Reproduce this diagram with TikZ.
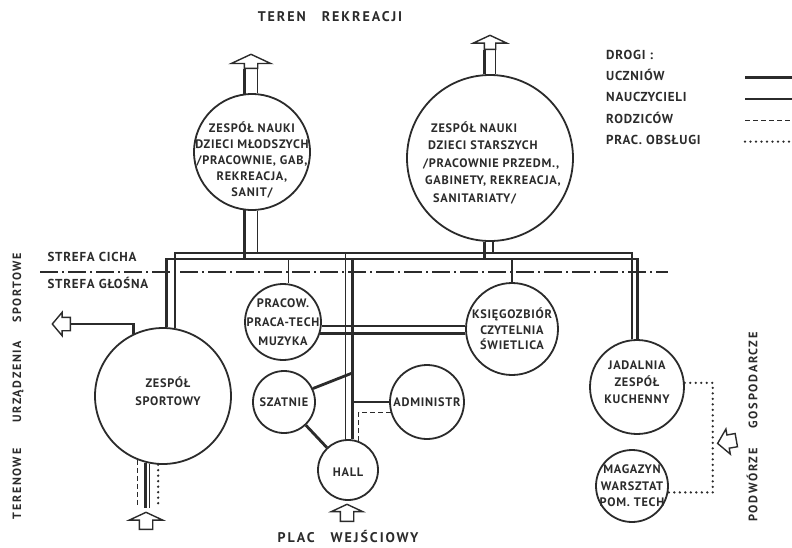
\documentclass[tikz,border=0pt]{standalone}
\usepackage{fontspec}
\setmainfont{PT Sans}[LetterSpace=6]
\usepackage{tikz}
\usetikzlibrary{positioning,shapes.arrows}

\definecolor{ink}{HTML}{2B2B2B}
\newcommand{\szeroko}{\addfontfeature{LetterSpace=14}}

\begin{document}
\begin{tikzpicture}[
    x=1pt, y=-1pt,
    every node/.style={text=ink, font=\fontsize{13}{14}\selectfont\bfseries},
    zone/.style={circle, draw=ink, line width=1.8pt, inner sep=0pt},
    opis/.style={align=center, font=\fontsize{12.3}{#1}\selectfont\bfseries},
    opis/.default=16,
    legenda/.style={inner sep=0pt, text height=8pt, text depth=2pt},
    napis/.style={font=\fontsize{#1}{16}\selectfont\bfseries\szeroko},
    napis/.default=14,
    uczen/.style={draw=ink, line width=2.8pt},
    nauczyciel/.style={draw=ink, line width=1.2pt},
    rodzic/.style={draw=ink, line width=1.1pt, dash pattern=on 5pt off 3pt},
    obsluga/.style={draw=ink, line width=2.6pt, line cap=round, dash pattern=on 0pt off 5.5pt},
    strefa/.style={draw=ink, line width=1.7pt, dash pattern=on 18pt off 4pt on 2pt off 4pt},
    wejscie/.style={single arrow, draw=ink, line width=1.4pt, fill=white, anchor=tail,
        inner xsep=0pt, inner ysep=6pt, single arrow tip angle=130, minimum height=15pt}
]
\useasboundingbox[fill=white] (0,0) rectangle (792,547);

\node[zone, minimum size=116pt,
    label={[opis, yshift=-8pt]center:{ZESPÓŁ NAUKI\\DZIECI MŁODSZYCH\\/PRACOWNIE, GAB,\\REKREACJA,\\SANIT/}}]
    (mlodsze) at (252,152) {};
\node[zone, minimum size=166pt,
    label={[opis=17.5, align=left, xshift=2pt, yshift=-5pt]center:{\hspace{8pt}ZESPÓŁ NAUKI\\\hspace{5pt}DZIECI STARSZYCH\\/PRACOWNIE PRZEDM.,\\\hspace{2pt}GABINETY, REKREACJA,\\\hspace{10pt}SANITARIATY/}}]
    (starsze) at (490,158) {};
\node[zone, minimum size=136pt,
    label={[opis=18, xshift=5pt, yshift=5pt]center:{ZESPÓŁ\\SPORTOWY}}]
    (sport) at (163,396) {};
\node[zone, minimum size=76pt,
    label={[opis=19]center:{PRACOW.\\PRACA-TECH\\MUZYKA}}]
    (pracownie) at (283,322) {};
\node[zone, minimum size=92pt,
    label={[opis=15.5]center:{KSIĘGOZBIÓR\\CZYTELNIA\\ŚWIETLICA}}]
    (ksiegozbior) at (512,329) {};
\node[zone, minimum size=94pt,
    label={[opis=17, yshift=5pt]center:{JADALNIA\\ZESPÓŁ\\KUCHENNY}}]
    (jadalnia) at (637,387) {};
\node[zone, minimum size=72pt,
    label={[opis=16.5]center:{MAGAZYN\\WARSZTAT\\POM. TECH}}]
    (magazyn) at (632,486) {};
\node[zone, minimum size=62pt, label={[opis]center:SZATNIE}] (szatnie) at (284,402) {};
\node[zone, minimum size=74pt, label={[opis]center:ADMINISTR}] (admin) at (427,402) {};
\node[zone, minimum size=60pt, label={[opis, yshift=-2pt]center:HALL}] (hall) at (348,470) {};

\node[wejscie, rotate=90, single arrow head extend=13pt, minimum height=14pt] (rekreacjaML) at (251,69) {};
\node[wejscie, rotate=90, inner ysep=5pt, single arrow head extend=11pt, minimum height=14pt] (rekreacjaST) at (490,50) {};
\node[wejscie, rotate=180, single arrow head extend=5pt, single arrow tip angle=100, minimum height=18pt] (boiska) at (71,324) {};
\node[wejscie, rotate=90, single arrow head extend=10pt, minimum height=17pt] (boiskoDol) at (146,530) {};
\node[wejscie, rotate=90, single arrow head extend=9pt, minimum height=17pt] (plac) at (347,522) {};
\node[wejscie, rotate=190, single arrow head extend=6pt, single arrow tip angle=100, minimum height=19pt] (podworze) at (737,440) {};

\coordinate (busU) at (0,259);
\coordinate (busN) at (0,253);
\coordinate (strefaL) at (40,272);
\coordinate (strefaR) at (668,272);
\coordinate (rozgal) at (hall.82 |- 0,373);

\draw[strefa] (strefaL) -- (strefaR);
\node[anchor=west] (cicha) at (44,257) {STREFA CICHA};
\node[anchor=west] (glosna) at (44,283) {STREFA GŁOŚNA};

\draw[uczen] (sport.87) |- (jadalnia.89 |- busU) -- (jadalnia.89);
\draw[nauczyciel] (sport.80) |- (jadalnia.96 |- busN) -- (jadalnia.96);
\draw[uczen] (mlodsze.97) -- (mlodsze.97 |- rekreacjaML.tail);
\draw[nauczyciel] (mlodsze.85) -- (mlodsze.85 |- rekreacjaML.tail);
\draw[uczen] (mlodsze.-97) -- (mlodsze.-97 |- busU);
\draw[nauczyciel] (mlodsze.-85) -- (mlodsze.-85 |- busN);
\draw[uczen] (starsze.94) -- (starsze.94 |- rekreacjaST.tail);
\draw[nauczyciel] (starsze.86) -- (starsze.86 |- rekreacjaST.tail);
\draw[uczen] (starsze.-94) -- (starsze.-94 |- busU);
\draw[nauczyciel] (starsze.-88) -- (starsze.-88 |- busN);
\draw[nauczyciel] (pracownie.82 |- busU) -- (pracownie.82);
\draw[uczen] (ksiegozbior.north |- busU) -- (ksiegozbior.north);
\draw[nauczyciel] (pracownie.-6) -- (pracownie.-6 -| ksiegozbior.west);
\draw[uczen] (pracownie.-17) -- (pracownie.-17 -| ksiegozbior.west);
\draw[nauczyciel] (hall.94 |- busN) -- (hall.94);
\draw[uczen] (hall.82 |- busU) -- (hall.82);
\draw[uczen] (szatnie.25) -- (rozgal);
\draw[uczen] (szatnie) -- (hall);
\draw[uczen] (hall.82 |- admin.west) -- (admin.west);
\draw[rodzic] (admin.196) -| (hall.70);

\draw[uczen] (sport.115) |- (boiska.tail);
\draw[rodzic, shorten >=4pt] (sport.-112) -- (sport.-112 |- boiskoDol.tip);
\draw[uczen, shorten >=4pt] (sport.-105) -- (sport.-105 |- boiskoDol.tip);
\draw[nauczyciel, shorten >=4pt] (sport.-101) -- (sport.-101 |- boiskoDol.tip);
\draw[obsluga, shorten >=4pt] (sport.-94) -- (sport.-94 |- boiskoDol.tip);
\draw[obsluga] (jadalnia.5) -- ++(28,0) |- (magazyn.-10);

\node[napis] (rekreacja) at (330,17) {TEREN\hspace{16pt}REKREACJI};
\node[napis] (wejsciowy) at (348,536) {PLAC\hspace{16pt}WEJŚCIOWY};
\node[napis=12, rotate=90] (terenowe) at (18,386) {TERENOWE\hspace{26pt}URZĄDZENIA\hspace{18pt}SPORTOWE};
\node[napis=12.3, rotate=90] (gospodarcze) at (752,427) {PODWÓRZE\hspace{20pt}GOSPODARCZE};

\node[legenda, anchor=west] (drogi) at (606,56) {DROGI :};
\node[legenda, below right=11pt and 0pt of drogi.south west] (uczniow) {UCZNIÓW};
\node[legenda, below right=11pt and 0pt of uczniow.south west] (nauczycieli) {NAUCZYCIELI};
\node[legenda, below right=11pt and 0pt of nauczycieli.south west] (rodzicow) {RODZICÓW};
\node[legenda, below right=11pt and 0pt of rodzicow.south west] (obslugi) {PRAC. OBSŁUGI};
\coordinate (probka) at (745,0);
\draw[uczen] (probka |- uczniow) -- ++(47,0);
\draw[nauczyciel, line width=1.6pt] (probka |- nauczycieli) -- ++(47,0);
\draw[rodzic] (probka |- rodzicow) -- ++(47,0);
\draw[obsluga] (probka |- obslugi) -- ++(47,0);
\end{tikzpicture}
\end{document}
